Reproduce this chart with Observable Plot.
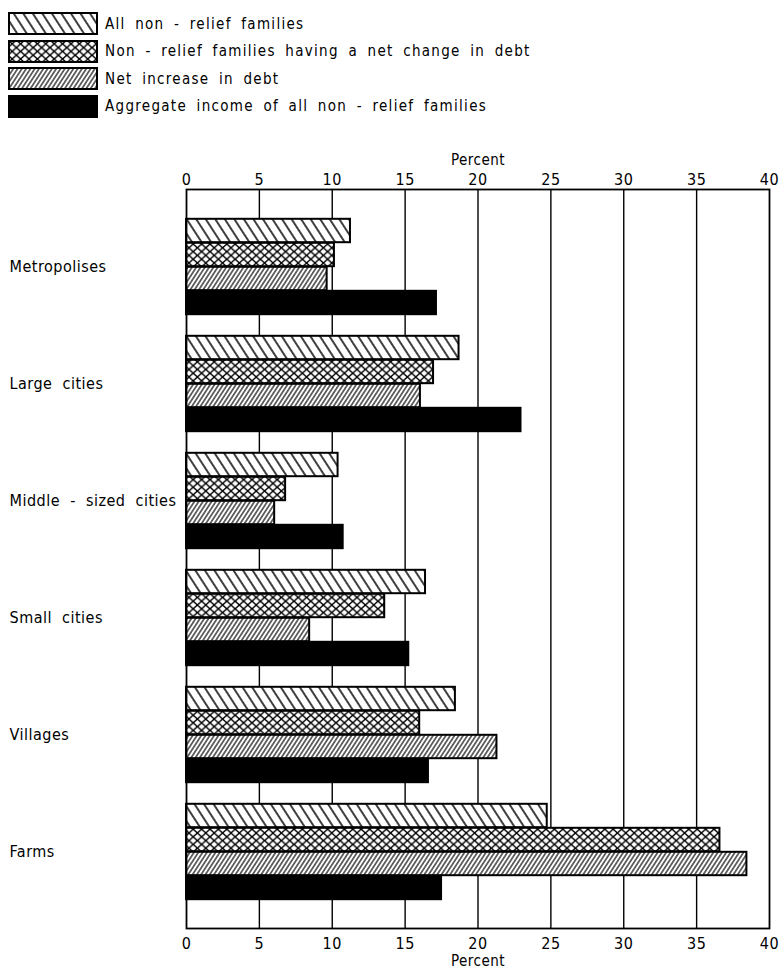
<!DOCTYPE html>
<html><head><meta charset="utf-8">
<script src="https://cdn.jsdelivr.net/npm/d3@7"></script>
<script src="https://cdn.jsdelivr.net/npm/@observablehq/plot@0.6"></script>
<style>
body{margin:0;background:#fff;font-family:"DejaVu Sans Condensed","Liberation Sans Narrow","DejaVu Sans",sans-serif;font-stretch:condensed;color:#000;}
#legend{position:relative;height:130px;width:781px;}
.row{position:absolute;left:8px;height:23px;display:flex;align-items:center;font-size:15px;letter-spacing:1.3px;word-spacing:4px;white-space:pre;}
.row svg{margin-right:7px;}
#chart svg{display:block;}
</style></head><body>
<svg width="0" height="0" style="position:absolute">
<defs>
<pattern id="pAll" patternUnits="userSpaceOnUse" width="8" height="8" patternTransform="rotate(-33)">
  <rect width="8" height="8" fill="#fff"/>
  <line x1="4" y1="-1" x2="4" y2="9" stroke="#000" stroke-width="1.5"/>
</pattern>
<pattern id="pCross" patternUnits="userSpaceOnUse" width="8.4" height="7.6">
  <rect width="8.4" height="7.6" fill="#fff"/>
  <path d="M0,0L8.4,7.6M8.4,0L0,7.6" stroke="#000" stroke-width="1.4"/>
</pattern>
<pattern id="pNet" patternUnits="userSpaceOnUse" width="3.6" height="3.6" patternTransform="rotate(33)">
  <rect width="3.6" height="3.6" fill="#fff"/>
  <line x1="1.8" y1="-1" x2="1.8" y2="4.6" stroke="#000" stroke-width="1.15"/>
</pattern>
</defs>
</svg>
<div id="legend"></div>
<div id="chart"></div>
<script>
const categories = ["Metropolises", "Large cities", "Middle - sized cities", "Small cities", "Villages", "Farms"];
const seriesNames = [
  "All non - relief families",
  "Non - relief families having a net change in debt",
  "Net increase in debt",
  "Aggregate income of all non - relief families"
];
const allFamilies     = [11.25, 18.7, 10.4, 16.4, 18.45, 24.75];
const changeInDebt    = [10.15, 16.95, 6.8, 13.6, 16.0, 36.6];
const netIncrease     = [9.65, 16.05, 6.05, 8.45, 21.3, 38.45];
const aggregateIncome = [17.15, 22.95, 10.75, 15.25, 16.6, 17.5];
const xTicks = [0, 5, 10, 15, 20, 25, 30, 35, 40];
const axisLabel = "Percent";

const seriesValues = [allFamilies, changeInDebt, netIncrease, aggregateIncome];
const fills = ["url(#pAll)", "url(#pCross)", "url(#pNet)", "#000"];

const data = [];
seriesNames.forEach((s, i) => categories.forEach((c, j) => data.push({category: c, series: s, value: seriesValues[i][j]})));

// legend
const legend = document.getElementById("legend");
seriesNames.forEach((s, i) => {
  const row = document.createElement("div");
  row.className = "row";
  row.style.top = (12 + i * 27.5) + "px";
  row.innerHTML = `<svg width="90" height="23"><rect x="1" y="1" width="88" height="21" fill="${fills[i]}" stroke="#000" stroke-width="2"/></svg><span>${s}</span>`;
  legend.appendChild(row);
});

const W = 781, H = 843, mt = 59, mb = 45, ml = 186, mr = 12, pad = 0.142;
const step = (H - mt - mb) / (categories.length + 2 * pad);
const blockPad = 10.8;
const barH = (step - 2 * blockPad) / 4;

const chart = Plot.plot({
  width: W, height: H,
  marginTop: mt, marginBottom: mb, marginLeft: ml, marginRight: mr,
  style: {fontFamily: '"DejaVu Sans Condensed","Liberation Sans Narrow","DejaVu Sans",sans-serif', fontSize: "16px", fontStretch: "condensed", color: "#000", background: "#fff", letterSpacing: "0.5px", wordSpacing: "5px"},
  x: {domain: [0, 40]},
  y: {domain: categories, paddingInner: 0, paddingOuter: pad, axis: null},
  marks: [
    Plot.ruleX(xTicks.filter(d => d > 0 && d < 40), {stroke: "#000", strokeWidth: 1.4}),
    ...seriesNames.map((s, i) => Plot.barX(data.filter(d => d.series === s), {
      x: "value", y: "category", fill: fills[i], stroke: "#000", strokeWidth: 2,
      insetTop: blockPad + barH * i, insetBottom: step - blockPad - barH * (i + 1)
    })),
    Plot.frame({stroke: "#000", strokeWidth: 1.8}),
    Plot.axisX({anchor: "top", ticks: xTicks, tickSize: 0, tickPadding: 5, label: null, tickFormat: d => d}),
    Plot.axisX({anchor: "bottom", ticks: xTicks, tickSize: 0, tickPadding: 9, label: null, tickFormat: d => d}),
    Plot.text([axisLabel], {text: d => d, frameAnchor: "top", dy: -35, fontSize: 15}),
    Plot.text([axisLabel], {text: d => d, frameAnchor: "bottom", dy: 37, fontSize: 15}),
    Plot.text(categories, {text: d => d, y: d => d, frameAnchor: "left", textAnchor: "start", dx: -(ml - 9), fontSize: 16})
  ]
});
document.getElementById("chart").appendChild(chart);
</script>
</body></html>
